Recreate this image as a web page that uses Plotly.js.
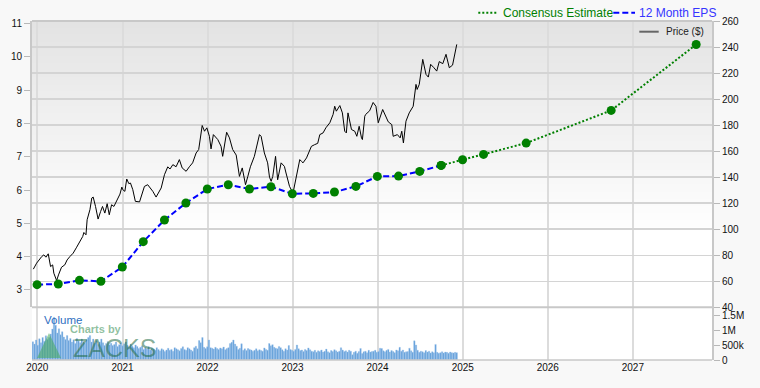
<!DOCTYPE html>
<html>
<head>
<meta charset="utf-8">
<script src="https://cdn.plot.ly/plotly-3.0.1.min.js"></script>
<style>
html,body{margin:0;padding:0;background:#f8f8f8;}
#chart{width:760px;height:388px;}
</style>
</head>
<body>
<div id="chart"></div>
<script>
// ---------- DATA ----------
const priceDates = [
"2019-12-15","2019-12-29","2020-01-20","2020-01-29","2020-02-07","2020-02-17","2020-02-27","2020-03-07","2020-03-12","2020-03-24",
"2020-04-01","2020-04-14","2020-04-28","2020-05-08","2020-05-20","2020-06-03","2020-06-18","2020-07-02","2020-07-14","2020-07-19",
"2020-07-28","2020-08-02","2020-08-14","2020-08-22","2020-08-28","2020-09-07","2020-09-18","2020-09-29","2020-10-07","2020-10-17",
"2020-10-27","2020-11-05","2020-11-15","2020-11-25","2020-12-09","2020-12-21","2020-12-29","2021-01-02","2021-01-11","2021-01-19",
"2021-01-28","2021-02-04","2021-02-14","2021-02-25","2021-03-15","2021-04-05","2021-04-19","2021-05-11","2021-05-25","2021-06-16",
"2021-06-30","2021-07-14","2021-07-24","2021-08-05","2021-08-19","2021-09-02","2021-09-14","2021-10-01","2021-10-15","2021-10-29",
"2021-11-13","2021-11-24","2021-12-09","2021-12-19","2021-12-29","2022-01-09","2022-01-16","2022-01-26","2022-02-14","2022-02-28",
"2022-03-07","2022-03-24","2022-04-05","2022-04-19","2022-05-04","2022-05-11","2022-05-18","2022-05-30","2022-06-13","2022-06-23",
"2022-07-04","2022-07-21","2022-08-03","2022-08-12","2022-08-19","2022-09-02","2022-09-16","2022-09-24","2022-10-01","2022-10-08",
"2022-10-20","2022-10-29","2022-11-13","2022-11-27","2022-12-04","2022-12-19","2023-01-03","2023-01-18","2023-02-01","2023-02-08",
"2023-02-15","2023-03-02","2023-03-23","2023-04-06","2023-04-19","2023-04-28","2023-05-12","2023-05-24","2023-06-10","2023-06-24",
"2023-07-01","2023-07-08","2023-07-23","2023-08-03","2023-08-13","2023-08-20","2023-08-27","2023-09-11","2023-09-25","2023-10-04",
"2023-10-14","2023-10-24","2023-10-28","2023-11-07","2023-11-11","2023-11-28","2023-12-13","2023-12-25","2024-01-04","2024-01-23",
"2024-02-06","2024-02-16","2024-03-02","2024-03-08","2024-03-26","2024-04-07","2024-04-14","2024-04-21","2024-05-02","2024-05-16",
"2024-06-02","2024-06-14","2024-06-19","2024-06-28","2024-07-13","2024-07-27","2024-08-06","2024-08-16","2024-08-30","2024-09-11",
"2024-09-22","2024-10-07","2024-10-21","2024-11-04","2024-11-18","2024-12-06"
];
const priceValues = [
69.3,73.9,79.0,80.3,78.5,81.1,71.3,72.6,66.2,60.5,
64.9,70.8,72.6,76.4,79.0,81.6,86.2,90.5,94.4,97.5,
95.7,107.3,115.0,124.0,124.7,117.5,107.8,113.7,117.5,112.4,
119.6,111.1,118.8,117.5,123.2,127.0,132.4,130.4,129.1,138.6,
135.0,135.5,130.4,121.4,121.0,132.9,134.2,129.1,124.7,131.7,
141.9,147.9,146.3,149.6,148.0,153.5,147.1,144.5,148.0,151.0,
158.6,161.2,179.7,175.3,177.9,171.4,161.7,172.7,168.9,163.7,
156.0,174.5,170.2,161.2,157.0,149.6,140.6,147.1,134.2,140.6,
148.0,156.0,166.0,172.7,171.4,158.6,151.0,140.0,136.8,140.6,
156.0,138.0,151.0,148.3,143.2,132.9,127.8,140.6,153.5,152.2,
151.0,154.8,163.7,165.0,166.0,172.7,174.0,177.9,181.8,188.2,
194.5,190.7,195.0,189.4,175.3,174.0,189.4,176.6,175.3,171.4,
179.1,170.2,168.9,186.8,188.2,191.0,197.4,194.5,181.8,192.0,
186.8,182.5,180.4,171.4,172.7,170.2,175.3,166.3,183.0,189.4,
194.5,211.3,207.4,211.3,230.5,219.0,216.9,226.7,224.1,221.5,
228.8,227.2,234.4,224.1,226.1,242.0
];

const epsDates = ["2019-12-31","2020-03-31","2020-06-30","2020-09-30","2020-12-31","2021-03-31","2021-06-30","2021-09-30","2021-12-31","2022-03-31",
"2022-06-30","2022-09-30","2022-12-31","2023-03-31","2023-06-30","2023-09-30","2023-12-31","2024-03-31","2024-06-30","2024-09-30"];
const epsValues = [3.16,3.18,3.29,3.26,3.69,4.45,5.10,5.61,6.03,6.16,6.03,6.10,5.89,5.90,5.94,6.11,6.41,6.42,6.56,6.74];

const consensusDates = ["2024-09-30","2024-12-31","2025-03-31","2025-09-30","2026-09-30","2027-09-30"];
const consensusValues = [6.74,6.91,7.07,7.41,8.39,10.37];

const volumeStart = "2019-12-13";   // weekly bars
const volumeValues = [
620,540,680,500,720,590,760,640,820,700,760,880,1050,1450,1180,920,1060,860,960,780,
700,830,660,730,610,690,560,730,650,590,710,630,570,690,760,830,610,710,570,660,
530,610,710,590,490,560,630,510,570,490,530,610,460,
520,580,480,550,610,500,450,540,470,420,510,460,390,430,480,360,420,380,450,340,
400,370,330,420,360,310,380,350,290,340,400,330,360,300,420,380,350,310,390,450,
360,330,420,380,340,300,420,470,380,660,590,760,
430,390,450,680,420,400,370,430,390,360,410,380,440,350,390,420,560,600,680,540,
470,360,400,550,330,380,320,390,360,340,300,330,380,310,350,320,300,410,360,330,
560,480,520,430,400,380,460,420,350,300,380,340,
490,360,330,300,360,510,380,320,340,290,360,320,410,350,300,280,330,260,310,290,
340,270,300,370,280,250,320,290,350,310,270,300,420,340,290,310,270,330,300,180,
260,300,230,290,390,220,280,300,250,330,270,290,
300,330,260,290,400,390,310,280,330,360,270,320,290,250,340,310,430,300,340,260,
280,290,400,310,260,650,510,330,260,300,280,250,320,270,300,240,280,250,530,260,
230,250,280,240,270,260,230,270,250,240,260,250
].map(v => v * 1000);

const volumeTickVals = [0, 500000, 1000000, 1500000];
const volumeTickText = ["0", "500k", "1M", "1.5M"];

// ---------- LAYOUT HELPERS (pixel -> paper) ----------
const W = 760, H = 388;
const M = {l: 32, r: 48, t: 21, b: 28};
const PW = W - M.l - M.r, PH = H - M.t - M.b;
const px = x => (x - M.l) / PW;
const py = y => (H - M.b - y) / PH;
const volTop = py(307.3);
const FONT = "Liberation Sans, Arial, sans-serif";

// ---------- TRACES ----------
const traces = [
  {
    type: "bar", x0: volumeStart, dx: 7 * 24 * 3600 * 1000, y: volumeValues,
    xaxis: "x", yaxis: "y3",
    marker: {color: "#5a9ad8", line: {color: "#a9cbee", width: 0.4}},
    hoverinfo: "skip", showlegend: false
  },
  {
    type: "scatter", mode: "lines", x: priceDates, y: priceValues,
    xaxis: "x", yaxis: "y",
    line: {color: "#000000", width: 1},
    hoverinfo: "skip", showlegend: false
  },
  {
    type: "scatter", mode: "lines+markers", x: consensusDates, y: consensusValues,
    xaxis: "x", yaxis: "y2",
    line: {color: "#008000", width: 2, dash: "2px,2px"},
    marker: {color: "#008000", size: 9},
    hoverinfo: "skip", showlegend: false
  },
  {
    type: "scatter", mode: "lines+markers", x: epsDates, y: epsValues,
    xaxis: "x", yaxis: "y2",
    line: {color: "#0000ff", width: 2, dash: "6px,3px"},
    marker: {color: "#008000", size: 9},
    hoverinfo: "skip", showlegend: false
  }
];

// ---------- BACKGROUND GRADIENT ----------
const shapes = [];
const gradTop = 1, gradBottom = py(235), N = 30;
for (let i = 0; i < N; i++) {
  const t = i / (N - 1);
  const c = Math.round(227 + (255 - 227) * t);
  shapes.push({
    type: "rect", xref: "paper", yref: "paper", layer: "below",
    x0: 0, x1: 1,
    y0: gradTop - (gradTop - gradBottom) * (i + 1) / N,
    y1: gradTop - (gradTop - gradBottom) * i / N + 0.002,
    fillcolor: `rgb(${c},${c},${c})`, line: {width: 0}
  });
}
// panel borders
shapes.push({type: "line", xref: "paper", yref: "paper", x0: 0, x1: 1, y0: 1, y1: 1, line: {color: "#c8c8c8", width: 2}});
shapes.push({type: "line", xref: "paper", yref: "paper", x0: 0, x1: 1, y0: volTop, y1: volTop, line: {color: "#c8c8c8", width: 2}});
shapes.push({type: "line", xref: "paper", yref: "paper", x0: 0, x1: 1, y0: 0, y1: 0, line: {color: "#c8c8c8", width: 1.5}});
// legend samples
shapes.push({type: "line", xref: "paper", yref: "paper", x0: px(478.3), x1: px(497), y0: py(12.7), y1: py(12.7), line: {color: "#008000", width: 2, dash: "2px,2px"}});
shapes.push({type: "line", xref: "paper", yref: "paper", x0: px(613.3), x1: px(635), y0: py(12.7), y1: py(12.7), line: {color: "#0000ff", width: 2, dash: "6px,3px"}});
shapes.push({type: "line", xref: "paper", yref: "paper", x0: px(639.3), x1: px(658.7), y0: py(31.7), y1: py(31.7), line: {color: "#666666", width: 2}});
// watermark triangle
shapes.push({type: "path", xref: "paper", yref: "paper", layer: "above",
  path: `M ${px(37)},${py(358)} L ${px(49)},${py(333)} L ${px(61)},${py(358)} Z`,
  fillcolor: "rgba(70,170,90,0.55)", line: {width: 0}});

const annotations = [
  {xref: "paper", yref: "paper", x: px(501), y: py(12.7), xanchor: "left", yanchor: "middle", showarrow: false,
   text: "Consensus Estimate", font: {family: FONT, size: 12, color: "#008000"}},
  {xref: "paper", yref: "paper", x: px(636.5), y: py(12.7), xanchor: "left", yanchor: "middle", showarrow: false,
   text: "12 Month EPS", font: {family: FONT, size: 12, color: "#3535ff"}},
  {xref: "paper", yref: "paper", x: px(663.5), y: py(31.7), xanchor: "left", yanchor: "middle", showarrow: false,
   text: "Price ($)", font: {family: FONT, size: 10, color: "#222222"}},
  {xref: "paper", yref: "paper", x: px(42), y: py(319.7), xanchor: "left", yanchor: "middle", showarrow: false,
   text: "Volume", font: {family: FONT, size: 11.5, color: "#2f6fbf"}},
  {xref: "paper", yref: "paper", x: px(68), y: py(328.5), xanchor: "left", yanchor: "middle", showarrow: false,
   text: "<b>Charts by</b>", font: {family: FONT, size: 11, color: "rgba(70,150,95,0.6)"}},
  {xref: "paper", yref: "paper", x: px(71), y: py(348), xanchor: "left", yanchor: "middle", showarrow: false,
   text: "ZACKS", font: {family: FONT, size: 25, color: "rgba(30,105,65,0.55)"}}
];

const tickFont = {family: FONT, size: 10, color: "#111111"};

const layout = {
  width: W, height: H,
  margin: M,
  paper_bgcolor: "#f8f8f8",
  plot_bgcolor: "#ffffff",
  showlegend: false,
  bargap: 0.12,
  xaxis: {
    type: "date", range: ["2019-12-09 06:00", "2027-12-07"], domain: [0, 1], anchor: "y3",
    tick0: "2020-01-01", dtick: "M12", tickformat: "%Y",
    showgrid: true, gridcolor: "#dcdcdc", gridwidth: 2,
    ticks: "", showline: false, zeroline: false, tickfont: tickFont
  },
  yaxis: {
    domain: [volTop, 1], anchor: "x", side: "right", range: [40, 260], dtick: 20, tick0: 40,
    showgrid: true, gridcolor: "#d4d4d4", gridwidth: 1.5, zeroline: false,
    ticks: "outside", ticklen: 6, tickcolor: "#b8b8b8",
    showline: true, linecolor: "#c8c8c8", linewidth: 2, tickfont: tickFont
  },
  yaxis2: {
    overlaying: "y", anchor: "x", side: "left", range: [2.48, 11.075], dtick: 1, tick0: 0,
    showgrid: false, zeroline: false,
    ticks: "outside", ticklen: 6, tickcolor: "#b8b8b8",
    showline: true, linecolor: "#c8c8c8", linewidth: 2, tickfont: tickFont
  },
  yaxis3: {
    domain: [0, volTop], anchor: "x", side: "right", range: [0, 1790000],
    tickvals: volumeTickVals, ticktext: volumeTickText,
    showgrid: false, zeroline: false,
    ticks: "outside", ticklen: 6, tickcolor: "#b8b8b8",
    showline: true, linecolor: "#c8c8c8", linewidth: 2, tickfont: tickFont
  },
  shapes: shapes,
  annotations: annotations,
  font: {family: FONT}
};

Plotly.newPlot("chart", traces, layout, {displayModeBar: false, staticPlot: true});
</script>
</body>
</html>
